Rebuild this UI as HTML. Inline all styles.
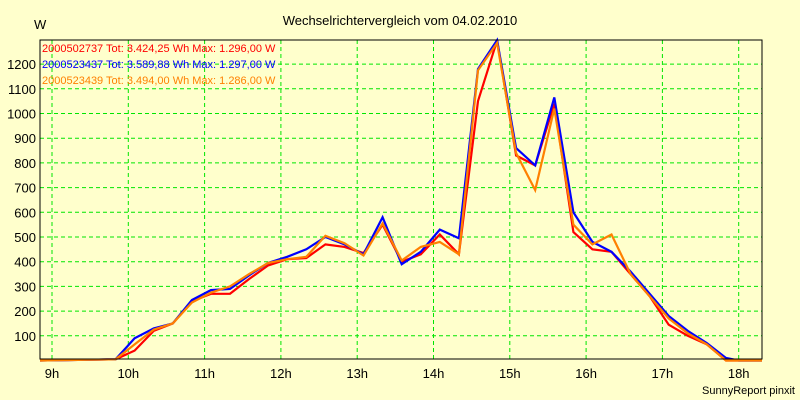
<!DOCTYPE html>
<html><head><meta charset="utf-8"><style>
body{margin:0;background:#FFFFCC;}
svg{display:block;font-family:"Liberation Sans",sans-serif;}
</style></head><body>
<svg id="chart" width="800" height="400" viewBox="0 0 800 400">
<rect x="0" y="0" width="800" height="400" fill="#FFFFCC"/>
<text x="400" y="25" text-anchor="middle" font-size="13">Wechselrichtervergleich vom 04.02.2010</text>
<text x="34" y="29" font-size="13">W</text>
<g id="grid"></g>
<g id="series"></g>
<rect x="40" y="40" width="722" height="319" fill="none" stroke="#000" stroke-width="1"/>
<g id="axes"></g>
<g font-size="11">
<text x="42" y="52" fill="#FF0000">2000502737 Tot: 3.424,25 Wh Max: 1.296,00 W</text>
<text x="42" y="68" fill="#0000FF">2000523437 Tot: 3.589,88 Wh Max: 1.297,00 W</text>
<text x="42" y="84" fill="#FF8000">2000523439 Tot: 3.494,00 Wh Max: 1.286,00 W</text>
</g>
<text x="795" y="394" text-anchor="end" font-size="11">SunnyReport pinxit</text>
</svg>
<script>
const times = [9.833,10.083,10.333,10.583,10.833,11.083,11.333,11.583,11.833,12.083,12.333,12.583,12.833,13.083,13.333,13.583,13.833,14.083,14.333,14.583,14.833,15.083,15.333,15.583,15.833,16.083,16.333,16.583,16.833,17.083,17.333,17.583,17.833,18.0];
const redValues = [5,40,120,150,240,270,270,330,385,410,415,470,460,435,550,400,430,510,430,1050,1296,830,790,1040,520,450,440,350,260,145,100,65,0,0];
const orangeValues = [5,65,125,150,235,275,300,350,395,410,420,505,475,425,555,405,460,480,430,1175,1286,840,690,1020,550,470,510,350,260,170,110,65,0,0];
const blueValues = [5,90,130,150,245,285,290,345,395,420,450,500,470,430,580,390,440,530,495,1180,1297,860,790,1065,600,480,440,360,270,180,120,70,10,0];
const yTicks = [100,200,300,400,500,600,700,800,900,1000,1100,1200];
const xTicks = [9,10,11,12,13,14,15,16,17,18];
const xTickLabels = ["9h","10h","11h","12h","13h","14h","15h","16h","17h","18h"];

const NS="http://www.w3.org/2000/svg";
function xs(t){return 52+(t-9)*76.3;}
function ys(v){return 360.5-v*0.247;}
function mk(tag,attrs,parent){const e=document.createElementNS(NS,tag);for(const k in attrs)e.setAttribute(k,attrs[k]);parent.appendChild(e);return e;}
const grid=document.getElementById('grid'),axes=document.getElementById('axes'),series=document.getElementById('series');
yTicks.forEach(v=>{
  const l=mk('line',{x1:40,x2:762,y1:ys(v),y2:ys(v),stroke:'#00E600','stroke-dasharray':'4,3','stroke-width':1},grid);
  
  
  const t=mk('text',{x:36,y:ys(v)+5,'text-anchor':'end','font-size':13},axes);
  t.textContent=v;
  
  
});
xTicks.forEach((h,i)=>{
  const l=mk('line',{x1:xs(h),x2:xs(h),y1:40,y2:359,stroke:'#00E600','stroke-dasharray':'4,3','stroke-width':1},grid);
  
  
  const t=mk('text',{x:xs(h),y:378,'text-anchor':'middle','font-size':13},axes);
  t.textContent=xTickLabels[i];
  
  
});
function drawSeries(vals,color,name){
  let pts=[[40,ys(0)]];
  times.forEach((t,i)=>pts.push([xs(t),ys(vals[i])]));
  pts.push([762,ys(0)]);
  const p=mk('polyline',{points:pts.map(p=>p[0].toFixed(1)+','+p[1].toFixed(1)).join(' '),fill:'none',stroke:color,'stroke-width':2.2,'stroke-linejoin':'miter'},series);
  
  
}
drawSeries(redValues,'#FF0000','series-2000502737');
drawSeries(blueValues,'#0000FF','series-2000523437');
drawSeries(orangeValues,'#FF8000','series-2000523439');
</script>
</body></html>
